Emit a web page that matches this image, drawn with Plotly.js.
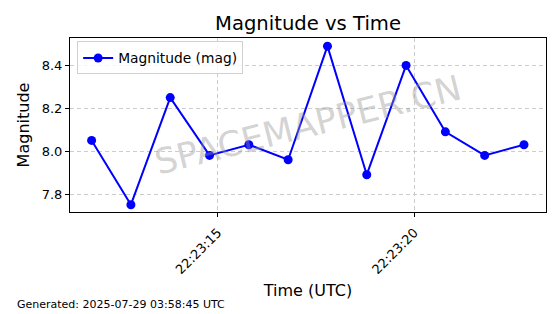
<!DOCTYPE html>
<html>
<head>
<meta charset="utf-8">
<script src="https://cdn.plot.ly/plotly-3.0.1.min.js"></script>
<style>html,body{margin:0;padding:0;background:#fff}#chart{width:560px;height:314px}</style>
</head>
<body>
<div id="chart"></div>
<script>
const times = [
  "2025-07-28 22:23:11.79", "2025-07-28 22:23:12.79", "2025-07-28 22:23:13.79",
  "2025-07-28 22:23:14.79", "2025-07-28 22:23:15.79", "2025-07-28 22:23:16.79",
  "2025-07-28 22:23:17.79", "2025-07-28 22:23:18.79", "2025-07-28 22:23:19.79",
  "2025-07-28 22:23:20.79", "2025-07-28 22:23:21.79", "2025-07-28 22:23:22.79"
];
const magnitudes = [8.05, 7.75, 8.25, 7.98, 8.03, 7.96, 8.49, 7.89, 8.40, 8.09, 7.98, 8.03];
const seriesName = "Magnitude (mag)";
const xRange = ["2025-07-28 22:23:11.24", "2025-07-28 22:23:23.35"];
const yRange = [7.716, 8.528];

const font = "DejaVu Sans, sans-serif";
const trace = {
  x: times, y: magnitudes, name: seriesName, type: "scatter", mode: "lines+markers",
  line: {color: "#0000ff", width: 2},
  marker: {color: "#0000ff", size: 9}
};
const layout = {
  width: 560, height: 314,
  margin: {l: 70, r: 14, t: 38, b: 102},
  paper_bgcolor: "#fff", plot_bgcolor: "#fff",
  font: {family: font, color: "#000"},
  title: {text: "Magnitude vs Time", font: {size: 19.6, family: font}, x: 0.55, xanchor: "center", y: 0.925, yanchor: "middle"},
  showlegend: true,
  legend: {x: 0.015, y: 0.98, xanchor: "left", yanchor: "top", bgcolor: "rgba(255,255,255,0.8)",
    bordercolor: "#d0d0d0", borderwidth: 1, font: {size: 13.8, family: font}},
  xaxis: {
    type: "date", range: xRange, tickformat: "%H:%M:%S", dtick: 5000, tick0: "2025-07-28 22:23:15",
    tickangle: -45, tickfont: {size: 13}, ticks: "outside", ticklen: 4, tickcolor: "#000",
    ticklabelstandoff: 3,
    showline: true, linecolor: "#000", linewidth: 1, mirror: true,
    showgrid: true, gridcolor: "#cccccc", griddash: "4px,3px", gridwidth: 1, zeroline: false,
    title: {text: "Time (UTC)", font: {size: 16}, standoff: 8}
  },
  yaxis: {
    range: yRange, dtick: 0.2, tick0: 7.8, tickformat: ".1f", tickfont: {size: 13},
    ticks: "outside", ticklen: 4, tickcolor: "#000",
    showline: true, linecolor: "#000", linewidth: 1, mirror: true,
    showgrid: true, gridcolor: "#cccccc", griddash: "4px,3px", gridwidth: 1, zeroline: false,
    title: {text: "Magnitude", font: {size: 16}, standoff: 8}
  },
  annotations: [
    {text: "SPACEMAPPER.CN", xref: "paper", yref: "paper", x: 0.5, y: 0.5, showarrow: false,
     textangle: -14, font: {size: 35, color: "rgba(150,150,150,0.42)", family: font}},
    {text: "Generated: 2025-07-29 03:58:45 UTC", xref: "paper", yref: "paper", xanchor: "left", yanchor: "middle",
     x: -0.115, y: -0.534, showarrow: false, font: {size: 11, family: font}}
  ]
};
Plotly.newPlot("chart", [trace], layout, {displayModeBar: false, staticPlot: true});
</script>
</body>
</html>
